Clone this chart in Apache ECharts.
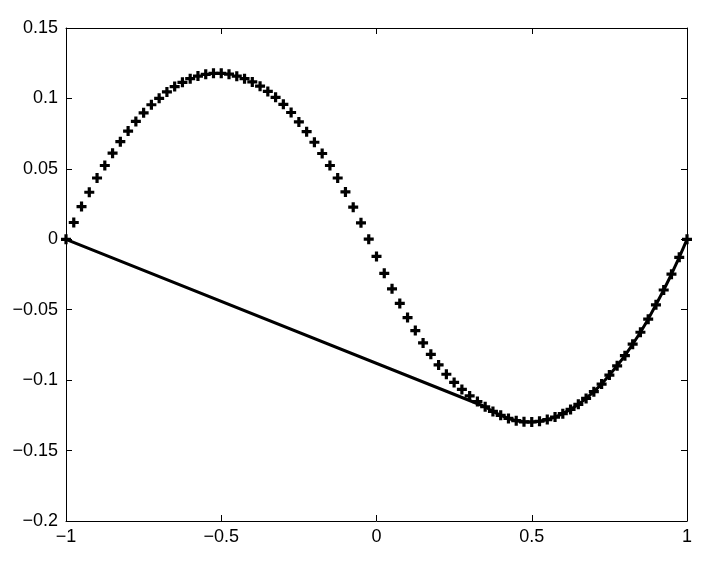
<!DOCTYPE html>
<html>
<head>
<meta charset="utf-8">
<script src="https://cdn.jsdelivr.net/npm/echarts@6/dist/echarts.min.js"></script>
<style>
  html, body { margin: 0; padding: 0; background: #fff; }
  #chart { width: 717px; height: 565px; }
</style>
</head>
<body>
<div id="chart"></div>
<script>
// sample positions (x) and the values (y)
var xVals = [
  -1, -0.975, -0.95, -0.925, -0.9, -0.875, -0.85, -0.825, -0.8, -0.775,
  -0.75, -0.725, -0.7, -0.675, -0.65, -0.625, -0.6, -0.575, -0.55, -0.525,
  -0.5, -0.475, -0.45, -0.425, -0.4, -0.375, -0.35, -0.325, -0.3, -0.275,
  -0.25, -0.225, -0.2, -0.175, -0.15, -0.125, -0.1, -0.075, -0.05, -0.025,
  0, 0.025, 0.05, 0.075, 0.1, 0.125, 0.15, 0.175, 0.2, 0.225,
  0.25, 0.275, 0.3, 0.325, 0.35, 0.375, 0.4, 0.425, 0.45, 0.475,
  0.5, 0.525, 0.55, 0.575, 0.6, 0.625, 0.65, 0.675, 0.7, 0.725,
  0.75, 0.775, 0.8, 0.825, 0.85, 0.875, 0.9, 0.925, 0.95, 0.975, 1
];
var yVals = [
  0, 0.0119, 0.0232, 0.0334, 0.0435, 0.0524, 0.0611, 0.0693, 0.0768, 0.0837,
  0.0898, 0.0955, 0.1001, 0.1046, 0.1084, 0.1114, 0.1140, 0.1159, 0.1171, 0.1178,
  0.1178, 0.1172, 0.1158, 0.1140, 0.1117, 0.1087, 0.1050, 0.1008, 0.0958, 0.0900,
  0.0833, 0.0764, 0.0689, 0.0609, 0.0524, 0.0435, 0.0336, 0.0228, 0.0117, 0.0001,
  -0.0122, -0.0242, -0.0352, -0.0455, -0.0556, -0.0648, -0.0736, -0.0817, -0.0892, -0.0958,
  -0.1016, -0.1066, -0.1112, -0.1152, -0.1189, -0.1222, -0.1250, -0.1272, -0.1288, -0.1296,
  -0.1297, -0.1292, -0.1280, -0.1262, -0.1238, -0.1208, -0.1172, -0.1130, -0.1082, -0.1028,
  -0.0964, -0.0898, -0.0826, -0.0745, -0.0660, -0.0567, -0.0465, -0.0360, -0.0248, -0.0128, 0
];
// solid line: straight from the left end to the knot, then along the samples
var lineStartX = -1;
var lineStartY = 0;
var lineKnotX = 0.35;

var xTicks = [-1, -0.5, 0, 0.5, 1];
var yTicks = [-0.2, -0.15, -0.1, -0.05, 0, 0.05, 0.1, 0.15];

var markerPts = xVals.map(function (x, i) { return [x, yVals[i]]; });
var linePts = [[lineStartX, lineStartY]].concat(markerPts.filter(function (p) { return p[0] >= lineKnotX - 1e-9; }));

function fmt(v) {
    var s = String(parseFloat(v.toFixed(2)));
    return s.replace('-', '\u2212');
}

var plusPath = 'path://M3.4,0H6.6V3.4H10V6.6H6.6V10H3.4V6.6H0V3.4H3.4Z';
var font = { color: '#000', fontSize: 18, fontFamily: 'Liberation Sans, Arial, sans-serif' };

var chart = echarts.init(document.getElementById('chart'));
chart.setOption({
    animation: false,
    backgroundColor: '#fff',
    grid: {
        left: 66,
        right: 30,
        top: 28,
        bottom: 44,
        containLabel: false
    },
    xAxis: [
        {
            type: 'value',
            min: xTicks[0],
            max: xTicks[xTicks.length - 1],
            interval: 0.5,
            axisLine: { show: true, onZero: false, lineStyle: { color: '#000', width: 1 } },
            axisTick: { show: true, inside: true, length: 6, lineStyle: { color: '#000' } },
            axisLabel: Object.assign({ margin: 7, formatter: fmt }, font),
            splitLine: { show: false }
        },
        {
            type: 'value',
            position: 'top',
            min: xTicks[0],
            max: xTicks[xTicks.length - 1],
            interval: 0.5,
            axisLine: { show: true, onZero: false, lineStyle: { color: '#000', width: 1 } },
            axisTick: { show: true, inside: true, length: 6, lineStyle: { color: '#000' } },
            axisLabel: { show: false },
            splitLine: { show: false }
        }
    ],
    yAxis: [
        {
            type: 'value',
            min: yTicks[0],
            max: yTicks[yTicks.length - 1],
            interval: 0.05,
            axisLine: { show: true, onZero: false, lineStyle: { color: '#000', width: 1 } },
            axisTick: { show: true, inside: true, length: 6, lineStyle: { color: '#000' } },
            axisLabel: Object.assign({ margin: 8, formatter: fmt }, font),
            splitLine: { show: false }
        },
        {
            type: 'value',
            position: 'right',
            min: yTicks[0],
            max: yTicks[yTicks.length - 1],
            interval: 0.05,
            axisLine: { show: true, onZero: false, lineStyle: { color: '#000', width: 1 } },
            axisTick: { show: true, inside: true, length: 6, lineStyle: { color: '#000' } },
            axisLabel: { show: false },
            splitLine: { show: false }
        }
    ],
    series: [
        {
            type: 'line',
            data: linePts,
            showSymbol: false,
            lineStyle: { color: '#000', width: 3 },
            z: 2
        },
        {
            type: 'scatter',
            data: markerPts,
            symbol: plusPath,
            symbolSize: 10,
            itemStyle: { color: '#000', opacity: 1 },
            z: 3
        }
    ]
});
</script>
</body>
</html>
